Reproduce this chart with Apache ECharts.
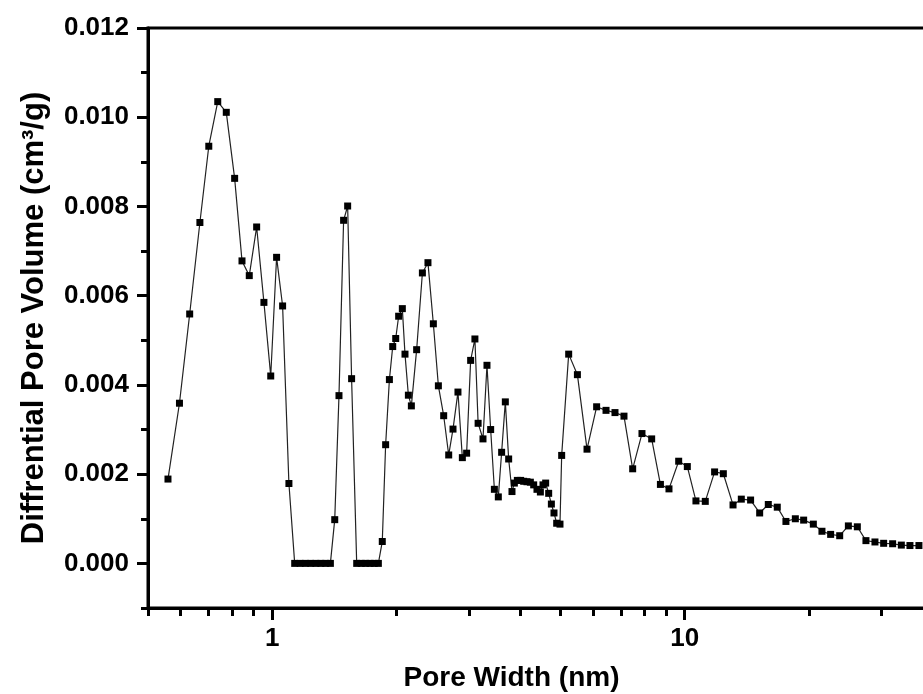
<!DOCTYPE html>
<html>
<head>
<meta charset="utf-8">
<script src="https://cdn.jsdelivr.net/npm/echarts@6/dist/echarts.min.js"></script>
<style>
  html, body { margin: 0; padding: 0; background: #fff; }
  #chart { width: 923px; height: 694px; }
</style>
</head>
<body>
<div id="chart"></div>
<script>
// Pore width (nm) of each point of the differential pore-volume distribution
const poreWidth = [
  0.559, 0.596, 0.631, 0.668, 0.702, 0.738, 0.774, 0.811, 0.845, 0.880,
  0.917, 0.955, 0.992, 1.025, 1.060, 1.098,
  1.134, 1.169, 1.204, 1.240, 1.276, 1.312, 1.348, 1.384,
  1.418, 1.452, 1.490, 1.524, 1.558,
  1.603, 1.644, 1.685, 1.727, 1.768, 1.809,
  1.849, 1.884, 1.924, 1.960, 1.993, 2.026, 2.068, 2.099, 2.139, 2.175,
  2.240, 2.313, 2.386, 2.459, 2.529, 2.605, 2.679, 2.744, 2.821, 2.891,
  2.961, 3.028, 3.101, 3.157, 3.244, 3.317, 3.386, 3.457, 3.534, 3.600,
  3.675, 3.744, 3.814, 3.865, 3.930, 4.003, 4.071, 4.147, 4.226, 4.305,
  4.385, 4.469, 4.535, 4.603, 4.681, 4.752, 4.822, 4.895, 4.986, 5.033,
  5.234, 5.495, 5.798, 6.118, 6.447, 6.778, 7.127, 7.481, 7.880, 8.318,
  8.734, 9.162, 9.672, 10.15, 10.65, 11.22, 11.82, 12.41, 13.10, 13.72,
  14.45, 15.20, 15.95, 16.77, 17.60, 18.55, 19.43, 20.51, 21.52, 22.59,
  23.76, 24.94, 26.22, 27.51, 28.93, 30.37, 31.93, 33.52, 35.17, 36.98
];

// Differential pore volume (cm3/g) at each pore width
const poreVolume = [
  0.00189, 0.00359, 0.00559, 0.00764, 0.00935, 0.01035, 0.01011, 0.00863, 0.00678, 0.00645,
  0.00754, 0.00585, 0.00420, 0.00686, 0.00577, 0.00179,
  0, 0, 0, 0, 0, 0, 0, 0,
  0.00098, 0.00376, 0.00769, 0.00801, 0.00414,
  0, 0, 0, 0, 0, 0,
  0.00049, 0.00266, 0.00412, 0.00486, 0.00504, 0.00554, 0.00571, 0.00469, 0.00377, 0.00353,
  0.00479, 0.00651, 0.00674, 0.00537, 0.00398, 0.00331, 0.00243, 0.00301, 0.00384, 0.00237,
  0.00247, 0.00455, 0.00503, 0.00314, 0.00279, 0.00444, 0.00300, 0.00166, 0.00149, 0.00249,
  0.00362, 0.00234, 0.00161, 0.00180, 0.00186, 0.00186, 0.00184, 0.00183, 0.00182, 0.00176,
  0.00166, 0.00160, 0.00176, 0.00180, 0.00157, 0.00133, 0.00113, 0.00090, 0.00088, 0.00242,
  0.00469, 0.00423, 0.00256, 0.00351, 0.00343, 0.00338, 0.00330, 0.00212, 0.00291, 0.00279,
  0.00177, 0.00167, 0.00229, 0.00217, 0.00140, 0.00139, 0.00205, 0.00201, 0.00131, 0.00144,
  0.00142, 0.00113, 0.00132, 0.00126, 0.00094, 0.00100, 0.00097, 0.00088, 0.00072, 0.00065,
  0.00062, 0.00084, 0.00082, 0.00051, 0.00048, 0.00045, 0.00044, 0.00041, 0.00040, 0.00040
];

// Axis ticks
const xMajorTicks = [1, 10];
const xMinorTicks = [0.5, 0.6, 0.7, 0.8, 0.9, 2, 3, 4, 5, 6, 7, 8, 9, 20, 30, 40];
const yMajorTicks = [0, 0.002, 0.004, 0.006, 0.008, 0.010, 0.012];
const yMinorTicks = [-0.001, 0.001, 0.003, 0.005, 0.007, 0.009, 0.011];

const FONT = 'Liberation Sans, Arial, sans-serif';
const AXIS_COLOR = '#000';

const chart = echarts.init(document.getElementById('chart'), null, { renderer: 'canvas' });

const seriesData = poreWidth.map((x, i) => [x, poreVolume[i]]);

const logAxisBase = {
  type: 'log',
  logBase: 10,
  min: 0.5,
  max: 40,
  gridIndex: 0,
  position: 'bottom',
  splitLine: { show: false },
  minorTick: { show: false },
  minorSplitLine: { show: false }
};

const valueAxisBase = {
  type: 'value',
  min: -0.001,
  max: 0.012,
  gridIndex: 0,
  position: 'left',
  splitLine: { show: false },
  minorTick: { show: false }
};

chart.setOption({
  animation: false,
  backgroundColor: '#ffffff',
  grid: {
    left: 148,
    top: 28,
    width: 785,
    height: 580,
    containLabel: false,
    outerBoundsMode: 'none',
    show: true,
    borderColor: AXIS_COLOR,
    borderWidth: 3,
    backgroundColor: 'transparent'
  },
  xAxis: [
    Object.assign({}, logAxisBase, {
      name: 'Pore Width (nm)',
      nameLocation: 'middle',
      nameGap: 56,
      nameTextStyle: {
        fontFamily: FONT, fontSize: 28, fontWeight: 'bold', color: '#000',
        padding: [0, 58, 0, 0]
      },
      axisLine: { show: true, onZero: false, lineStyle: { color: AXIS_COLOR, width: 3 } },
      axisTick: {
        show: true, inside: false, length: 12, customValues: xMajorTicks,
        lineStyle: { color: AXIS_COLOR, width: 3 }
      },
      axisLabel: {
        show: true, customValues: xMajorTicks, margin: 18,
        fontFamily: FONT, fontSize: 26, fontWeight: 'bold', color: '#000',
        formatter: v => String(Math.round(v))
      }
    }),
    Object.assign({}, logAxisBase, {
      axisLine: { show: false, onZero: false },
      axisTick: {
        show: true, inside: false, length: 8, customValues: xMinorTicks,
        lineStyle: { color: AXIS_COLOR, width: 3 }
      },
      axisLabel: { show: false }
    })
  ],
  yAxis: [
    Object.assign({}, valueAxisBase, {
      name: 'Diffrential Pore Volume (cm³/g)',
      nameLocation: 'middle',
      nameGap: 98,
      nameTextStyle: { fontFamily: FONT, fontSize: 31, fontWeight: 'bold', color: '#000' },
      axisLine: { show: true, onZero: false, lineStyle: { color: AXIS_COLOR, width: 3 } },
      axisTick: {
        show: true, inside: false, length: 11, customValues: yMajorTicks,
        lineStyle: { color: AXIS_COLOR, width: 3 }
      },
      axisLabel: {
        show: true, customValues: yMajorTicks, margin: 19,
        fontFamily: FONT, fontSize: 26, fontWeight: 'bold', color: '#000',
        formatter: v => v.toFixed(3)
      }
    }),
    Object.assign({}, valueAxisBase, {
      axisLine: { show: false, onZero: false },
      axisTick: {
        show: true, inside: false, length: 7, customValues: yMinorTicks,
        lineStyle: { color: AXIS_COLOR, width: 3 }
      },
      axisLabel: { show: false }
    })
  ],
  series: [{
    type: 'line',
    xAxisIndex: 0,
    yAxisIndex: 0,
    data: seriesData,
    symbol: 'rect',
    symbolSize: 7,
    showAllSymbol: true,
    itemStyle: { color: '#000' },
    lineStyle: { color: '#222', width: 1.2 },
    emphasis: { disabled: true }
  }]
});
</script>
</body>
</html>
